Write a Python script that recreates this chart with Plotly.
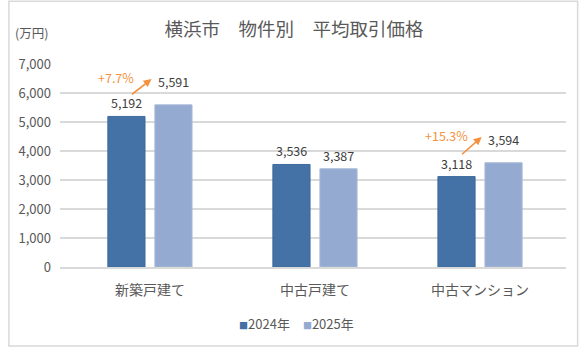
import plotly.graph_objects as go

# Average transaction price by property type, Yokohama (unit: 10,000 yen)
categories = ["新築戸建て", "中古戸建て", "中古マンション"]
years = ["2024年", "2025年"]
price_2024 = [5192, 3536, 3118]
price_2025 = [5591, 3387, 3594]
y_ticks = [0, 1000, 2000, 3000, 4000, 5000, 6000, 7000]

# categories that get a growth arrow
highlight = [0, 2]

JP_FONT = "Noto Sans CJK JP, Noto Sans, sans-serif"
GRAY = "#595959"
DARK = "#4472A6"
LIGHT = "#95AAD0"
ORANGE = "#F4913E"

x_pos = list(range(len(categories)))
BAR_OFFSET = 23.5  # px from category centre to each bar centre

fig = go.Figure()
for name, vals, color, edge in [
    (years[0], price_2024, DARK, "#3E6A9C"),
    (years[1], price_2025, LIGHT, "#A9BAD9"),
]:
    fig.add_trace(go.Bar(
        x=x_pos, y=vals, name=name,
        marker=dict(color=color, line=dict(color=edge, width=1)),
        showlegend=False,
    ))

# value labels above each bar (raised a little where an arrow sits)
for i in x_pos:
    for vals, sign, series in [(price_2024, -1, 0), (price_2025, 1, 1)]:
        lift = 12 if (series == 1 and i in highlight) else 2
        fig.add_annotation(
            x=i, y=vals[i], xref="x", yref="y",
            xshift=sign * BAR_OFFSET, yshift=lift, yanchor="bottom",
            text=f"{vals[i]:,}", showarrow=False,
            font=dict(size=12.5, color="#404040", family=JP_FONT),
        )

# growth arrows and percentage labels
for i in highlight:
    a, b = price_2024[i], price_2025[i]
    pct = (b - a) / a * 100
    fig.add_annotation(
        x=i + 0.01, y=b + 890, ax=i - 0.118, ay=a + 725,
        xref="x", yref="y", axref="x", ayref="y",
        showarrow=True, arrowhead=2, arrowsize=1, arrowwidth=1.6,
        arrowcolor=ORANGE, text="",
    )
    fig.add_annotation(
        x=i - 0.205, y=b + 940, xref="x", yref="y",
        xanchor="center", yanchor="middle",
        text=f"+{pct:.1f}%", showarrow=False,
        font=dict(size=12.5, color=ORANGE, family=JP_FONT),
    )

# unit label
fig.add_annotation(
    x=-0.057, y=1.153, xref="paper", yref="paper",
    xanchor="center", yanchor="middle",
    text="(万円)", showarrow=False,
    font=dict(size=12.5, color=GRAY, family=JP_FONT),
)

# legend as compact square markers
fig.add_annotation(
    x=0.468, y=-0.276, xref="paper", yref="paper",
    xanchor="center", yanchor="middle",
    text=(f"<span style='font-size:9px;color:{DARK}'>■</span>{years[0]}"
          f"\u2003<span style='font-size:9px;color:{LIGHT}'>■</span>{years[1]}"),
    showarrow=False,
    font=dict(size=13, color=GRAY, family=JP_FONT),
)

# chart frame
fig.add_shape(
    type="rect", xref="paper", yref="paper",
    x0=-0.101, x1=1.023, y0=-0.389, y1=1.309,
    line=dict(color="#D9D9D9", width=1.5), layer="below",
)

fig.update_layout(
    width=581, height=348,
    margin=dict(l=60, r=15, t=64, b=81),
    paper_bgcolor="white", plot_bgcolor="white",
    title=dict(
        text="横浜市　物件別　平均取引価格",
        x=0.506, xref="container", xanchor="center",
        y=0.914, yref="container", yanchor="middle",
        font=dict(size=18.5, color=GRAY, family=JP_FONT),
    ),
    barmode="group", bargap=0.43, bargroupgap=0.21,
    showlegend=False,
    font=dict(family=JP_FONT, color=GRAY),
)

fig.update_xaxes(
    tickvals=x_pos, ticktext=categories, range=[-0.545, 2.521],
    showgrid=False, zeroline=False, showline=True, linecolor="#D9D9D9", linewidth=1.5,
    ticks="", ticklabelstandoff=9,
    tickfont=dict(size=14, color=GRAY, family=JP_FONT),
)
fig.update_yaxes(
    range=[0, 7000], tickvals=y_ticks, tickformat=",",
    showgrid=True, gridcolor="#D9D9D9", gridwidth=1.5,
    zeroline=False, showline=False, ticks="", ticklabelstandoff=8,
    tickfont=dict(size=13, color=GRAY, family=JP_FONT),
)

fig.write_html("out.html")
